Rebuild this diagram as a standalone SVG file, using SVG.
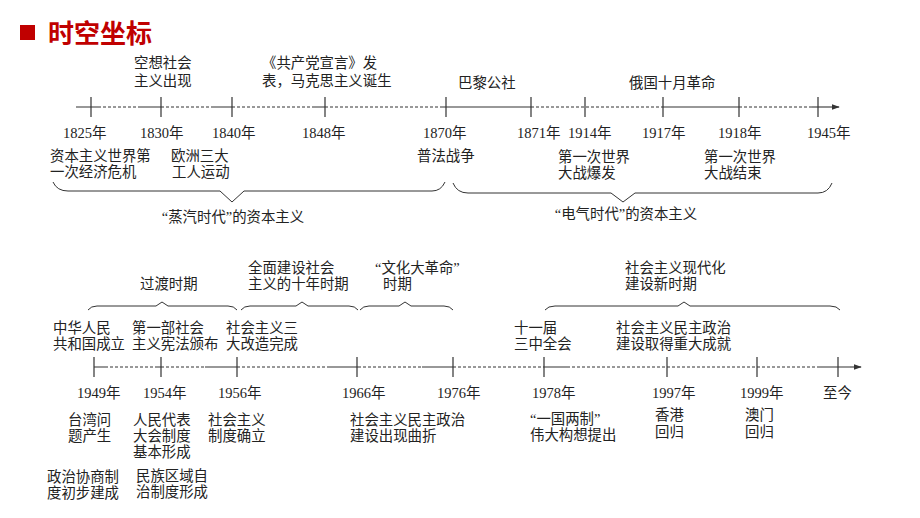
<svg xmlns="http://www.w3.org/2000/svg" width="920" height="518" viewBox="0 0 920 518">
<defs>
<style>
.t{font-family:"Liberation Serif","Noto Sans CJK SC",serif;font-size:14.4px;fill:#222;}
.y{font-family:"Liberation Serif","Noto Sans CJK SC",serif;font-size:14.5px;fill:#222;}
.ttl{font-family:"Noto Sans CJK SC","Liberation Sans",sans-serif;font-size:26px;font-weight:bold;fill:#C00000;}
.s{stroke:#333;stroke-width:1.1;fill:none;}
.d{stroke:#333;stroke-width:1;fill:none;stroke-dasharray:3 2;}
.k{stroke:#333;stroke-width:1.2;fill:none;}
.b{stroke:#333;stroke-width:1;fill:none;}
</style>
<marker id="arr" viewBox="0 0 10 10" refX="9" refY="5" markerWidth="8" markerHeight="8" markerUnits="userSpaceOnUse" orient="auto">
<path d="M0,1.5 L10,5 L0,8.5 z" fill="#333"/>
</marker>
</defs>
<rect width="920" height="518" fill="#fff"/>
<g id="title">
<rect x="20" y="25" width="15" height="15" fill="#C00000"/>
<text class="ttl" x="48" y="43">时空坐标</text>
</g>
<g id="connectors">
<path class="s" d="M76,107H98M140,107H161M213,107H232M313,107H325M440,107H531M662,107H739"/>
<path class="d" d="M98,107H140M161,107H213M232,107H313M325,107H440M531,107H662M739,107H812"/>
<path class="s" d="M812,107H839" marker-end="url(#arr)"/>
<path class="k" d="M91,97V117M161,97V117M232,97V117M325,97V117M446,97V117M531,97V117M585,97V117M663,97V117M739,97V117M818,97V117"/>
<path class="b" d="M53,182Q57,191 68,191H220L232,202L244,191H432Q441,191 445,182"/>
<path class="b" d="M453,183Q457,193 468,193H611L623,202L635,193H818Q828,193 832,183"/>
<path class="s" d="M94,367H105M157,367H161M205,367H237M327,367H358M422,367H453M544,367H567M820,367H850"/>
<path class="d" d="M105,367H157M161,367H205M237,367H327M358,367H422M453,367H544M567,367H820"/>
<path class="s" d="M850,367H861" marker-end="url(#arr)"/>
<path class="k" d="M94,357V377M161,357V377M237,357V377M357,357V377M453,357V377M544,357V377M667,357V377M757,357V377M838,357V377"/>
<path class="b" d="M88,310Q91,306 97,306H156L162,302L168,306H228Q234,306 237,310"/>
<path class="b" d="M241,310Q244,306 250,306H296L302,302L308,306H349Q355,306 358,310"/>
<path class="b" d="M360,310Q363,306 369,306H399L405,302L411,306H444Q450,306 453,310"/>
<path class="b" d="M545,310Q548,306 555,306H678L684,302L690,306H830Q837,306 840,310"/>
</g>
<g id="n1825"><text class="y" x="63" y="138">1825年</text><text class="t" x="50" y="160.5">资本主义世界第<tspan x="50" dy="16">一次经济危机</tspan></text></g>
<g id="n1830"><text class="t" x="134" y="67.5">空想社会<tspan x="134" dy="18">主义出现</tspan></text><text class="y" x="140" y="138">1830年</text></g>
<g id="n1840"><text class="y" x="212" y="138">1840年</text><text class="t" x="171" y="160.5">欧洲三大<tspan x="172" dy="16">工人运动</tspan></text></g>
<g id="n1848"><text class="t" x="262" y="67.5">《共产党宣言》发<tspan x="262" dy="18">表，马克思主义诞生</tspan></text><text class="y" x="302" y="138">1848年</text></g>
<g id="n1870"><text class="y" x="423" y="138">1870年</text><text class="t" x="417" y="161">普法战争</text></g>
<g id="n1871"><text class="t" x="458" y="87.5">巴黎公社</text><text class="y" x="517" y="138">1871年</text></g>
<g id="n1914"><text class="y" x="568" y="138">1914年</text><text class="t" x="558" y="161.5">第一次世界<tspan x="558" dy="16">大战爆发</tspan></text></g>
<g id="n1917"><text class="t" x="629" y="87.5">俄国十月革命</text><text class="y" x="642" y="138">1917年</text></g>
<g id="n1918"><text class="y" x="718" y="138">1918年</text><text class="t" x="704" y="161.5">第一次世界<tspan x="704" dy="16">大战结束</tspan></text></g>
<g id="n1945"><text class="y" x="807" y="138">1945年</text></g>
<g id="steam"><text class="t" x="233" y="222" text-anchor="middle">“蒸汽时代”的资本主义</text></g>
<g id="electric"><text class="t" x="626" y="218.5" text-anchor="middle">“电气时代”的资本主义</text></g>

<g id="p-transition"><text class="t" x="140" y="288.5">过渡时期</text></g>
<g id="p-tenyears"><text class="t" x="248" y="272.5">全面建设社会<tspan x="248" dy="16">主义的十年时期</tspan></text></g>
<g id="p-cr"><text class="t" x="375" y="272.5">“文化大革命”<tspan x="383" dy="16">时期</tspan></text></g>
<g id="p-new"><text class="t" x="625" y="272.5">社会主义现代化<tspan x="625" dy="16">建设新时期</tspan></text></g>

<g id="n1949"><text class="t" x="53" y="332.5">中华人民<tspan x="53" dy="16">共和国成立</tspan></text><text class="y" x="77" y="398">1949年</text>
<text class="t" x="68" y="424.5">台湾问<tspan x="68" dy="16">题产生</tspan></text>
<text class="t" x="47" y="481.5">政治协商制<tspan x="47" dy="16">度初步建成</tspan></text></g>
<g id="n1954"><text class="t" x="132" y="332.5">第一部社会<tspan x="132" dy="16">主义宪法颁布</tspan></text><text class="y" x="143" y="398">1954年</text>
<text class="t" x="133" y="424.5">人民代表<tspan x="133" dy="16">大会制度</tspan><tspan x="133" dy="16">基本形成</tspan></text>
<text class="t" x="136" y="480.5">民族区域自<tspan x="136" dy="16">治制度形成</tspan></text></g>
<g id="n1956"><text class="t" x="226" y="332.5">社会主义三<tspan x="226" dy="16">大改造完成</tspan></text><text class="y" x="218" y="398">1956年</text>
<text class="t" x="208" y="424.5">社会主义<tspan x="208" dy="16">制度确立</tspan></text></g>
<g id="n1966"><text class="y" x="342" y="398">1966年</text><text class="t" x="350" y="424.5">社会主义民主政治<tspan x="350" dy="16">建设出现曲折</tspan></text></g>
<g id="n1976"><text class="y" x="437" y="398">1976年</text></g>
<g id="n1978"><text class="t" x="514" y="332.5">十一届<tspan x="514" dy="16">三中全会</tspan></text><text class="y" x="532" y="398">1978年</text>
<text class="t" x="530" y="424">“一国两制”<tspan x="530" dy="16">伟大构想提出</tspan></text></g>
<g id="n1997"><text class="t" x="616" y="332.5">社会主义民主政治<tspan x="616" dy="16">建设取得重大成就</tspan></text><text class="y" x="652" y="398">1997年</text>
<text class="t" x="655" y="420">香港<tspan x="655" dy="17">回归</tspan></text></g>
<g id="n1999"><text class="y" x="740" y="398">1999年</text><text class="t" x="745" y="420">澳门<tspan x="745" dy="17">回归</tspan></text></g>
<g id="now"><text class="t" x="823" y="398">至今</text></g>
</svg>
